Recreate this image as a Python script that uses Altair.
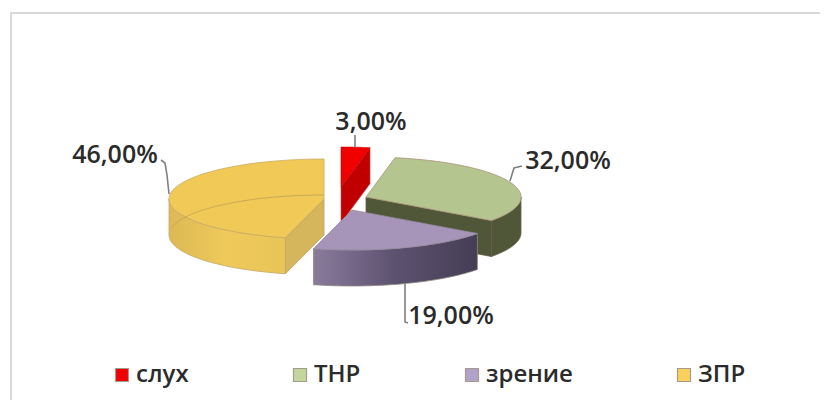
import math
import altair as alt
import pandas as pd

# ---- data
categories = ["слух", "ТНР", "зрение", "ЗПР"]
shares = [3, 32, 19, 46]
labels = ["3,00%", "32,00%", "19,00%", "46,00%"]
legend_colors = ["#f00000", "#c3d69b", "#b3a2c7", "#fcd05a"]

# ---- layout of the flattened 3D pie (page pixels)
W, H = 812, 392
RX, RY, DEPTH = 155, 40, 36
centers = [(341, 187), (366, 197), (352, 210), (324, 199)]
label_pos = [(371, 122), (568, 161), (451, 316), (115, 155)]
leaders = [
    [(355, 135), (355, 147)],
    [(522, 166), (514, 168), (510, 181)],
    [(408, 323), (405, 322), (405, 284)],
    [(161, 160), (165, 163), (167, 175), (169, 194)],
]

cum = [0]
for s in shares:
    cum.append(cum[-1] + s)
angles = [(cum[i] * 3.6, cum[i + 1] * 3.6) for i in range(4)]


def rim(c, a, dz=0):
    r = math.radians(a)
    return (c[0] + RX * math.sin(r), c[1] - RY * math.cos(r) + dz)


def arc(c, a0, a1, dz=0, n=60):
    return [rim(c, a0 + (a1 - a0) * k / n, dz) for k in range(n + 1)]


def wall(c, a0, a1):
    return arc(c, a0, a1) + arc(c, a1, a0, DEPTH)


def cut(c, a):
    return [c, rim(c, a), rim(c, a, DEPTH), (c[0], c[1] + DEPTH)]


def top(c, a0, a1):
    return [c] + arc(c, a0, a1)


def grad(*cols):
    n = len(cols) - 1
    return alt.LinearGradient(
        gradient="linear", x1=0, x2=1, y1=0, y2=0,
        stops=[alt.GradientStop(color=col, offset=k / n) for k, col in enumerate(cols)],
    )


X = alt.X("x:Q", axis=None, scale=alt.Scale(domain=[8, 8 + W], range=[0, W], nice=False, zero=False))
Y = alt.Y("y:Q", axis=None, scale=alt.Scale(domain=[8 + H, 8], range=[H, 0], nice=False, zero=False))


def frame(pts):
    return pd.DataFrame({"x": [p[0] for p in pts], "y": [p[1] for p in pts], "i": range(len(pts))})


def poly(pts, fill, stroke, sw=1.0, closed=True, opacity=1):
    pts = list(pts) + ([pts[0]] if closed else [])
    kw = {"fill": fill} if fill is not None else {}
    return alt.Chart(frame(pts)).mark_line(stroke=stroke, strokeWidth=sw, strokeOpacity=opacity, **kw).encode(
        x=X, y=Y, order=alt.Order("i:Q")
    )


cR, cG, cP, cY = centers
aR, aG, aP, aY = angles

layers = []

# frame of the picture
layers.append(poly([(11, 408), (11, 13), (828, 13)], None, "#d9d9d9", 2, closed=False))

# ЗПР
layers += [
    poly(cut(cY, aY[0]), "#d6b65c", "#b9a060", 0.8),
    poly(wall(cY, aY[0], 270), grad("#dcb955", "#efc95a", "#e9c458"), "#c4a868", 0.8),
    poly(top(cY, aY[0], aY[1]), "#f0c956", "#c9ab62", 0.8),
    poly(arc(cY, 279, 360, DEPTH), None, "#c4a45a", 0.9, closed=False),
]

# слух
layers += [
    poly(cut(cR, aR[1]), "#c00000", "#d05050", 0.6),
    poly(top(cR, aR[0], aR[1]), "#f00000", "#c00000", 0.6),
]

# ТНР
layers += [
    poly(wall(cG, 90, aG[1]), "#4f5738", "#6b6248", 0.8),
    poly(cut(cG, aG[1]), "#4f5738", "#6b5a45", 0.8),
    poly(top(cG, aG[0], aG[1]), "#b5c58f", "#b09a80", 0.9),
]

# зрение
layers += [
    poly(wall(cP, aP[0], aP[1]), grad("#8a7b9b", "#5d5170", "#453d55"), "#8d8a80", 0.8),
    poly(top(cP, aP[0], aP[1]), "#a695b9", "#968aa0", 0.8),
]

# leader lines
for pts in leaders:
    layers.append(poly(pts, None, "#808080", 1.6, closed=False))

# data labels
label_df = pd.DataFrame({
    "x": [p[0] for p in label_pos],
    "y": [p[1] for p in label_pos],
    "t": labels,
})
layers.append(
    alt.Chart(label_df).mark_text(
        font="Open Sans", fontSize=25, fontWeight=600, color="#2b2b2b", align="center", baseline="middle"
    ).encode(x=X, y=Y, text="t:N")
)

# legend (a layer with no drawn points carrying the colour scale)
legend_df = pd.DataFrame({"cat": categories, "x": [None] * 4, "y": [None] * 4})
layers.append(
    alt.Chart(legend_df).mark_square(size=169, opacity=1).encode(
        x=X, y=Y,
        color=alt.Color(
            "cat:N",
            scale=alt.Scale(domain=categories, range=legend_colors),
            sort=categories,
            legend=alt.Legend(
                title=None, orient="none", legendX=102, legendY=355,
                direction="horizontal", columns=4, gridAlign="none", columnPadding=99,
                symbolType="square", symbolSize=169, symbolStrokeColor="#a39a90", symbolStrokeWidth=1.2,
                labelFont="Open Sans", labelFontSize=24, labelFontWeight=600, labelColor="#2b2b2b",
                labelLimit=300, labelOffset=2, symbolOpacity=1,
            ),
        ),
    )
)

chart = (
    alt.layer(*layers)
    .properties(width=W, height=H, padding=0, autosize=alt.AutoSizeParams(type="none"), background="white")
    .configure_view(stroke=None)
)
chart.save("out.html", embed_options={"renderer": "svg", "actions": False})
